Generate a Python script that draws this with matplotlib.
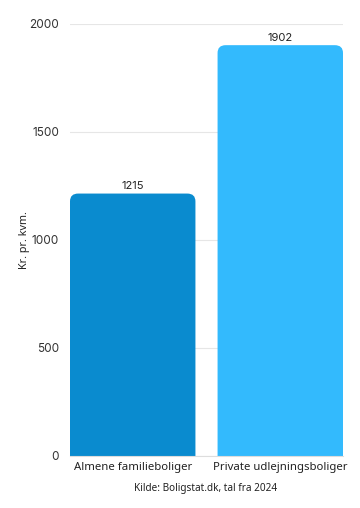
import matplotlib.pyplot as plt
from matplotlib.patches import FancyBboxPatch

categories = ["Almene familieboliger", "Private udlejningsboliger"]
values = [1215, 1902]
colors = ["#0A8BCF", "#33BAFD"]
yticks = [0, 500, 1000, 1500, 2000]

fig = plt.figure(figsize=(3.6, 5.08), dpi=100)
ax = fig.add_axes([70 / 360, 52 / 508, 273 / 360, 432 / 508])

width = 0.85
bars = ax.bar(range(len(categories)), values, width=width, color="none")

# rounded top corners: draw rounded boxes that start below zero so the lower corners are clipped
rx = 0.055
ry = 36
for bar, c in zip(bars, colors):
    x0 = bar.get_x()
    h = bar.get_height()
    patch = FancyBboxPatch((x0, -ry * 2), width, h + ry * 2,
                           boxstyle=f"round,pad=0,rounding_size={rx}",
                           mutation_aspect=ry / rx, fc=c, ec="none", zorder=3)
    ax.add_patch(patch)
    ax.text(bar.get_x() + width / 2, h + 12, f"{h:.0f}", ha="center", va="bottom",
            fontsize=8, family="Inter", color="#222222")

ax.set_xlim(-width / 2, len(categories) - 1 + width / 2)
ax.set_ylim(0, 2000)
ax.set_yticks(yticks)
ax.set_yticklabels([str(t) for t in yticks], family="Inter", fontsize=8.5, color="#333333")
ax.set_xticks(range(len(categories)))
ax.set_xticklabels(categories, family="Noto Sans", fontsize=8.2, color="#222222")
ax.tick_params(length=0, pad=8)
ax.tick_params(axis="x", pad=4)
ax.grid(axis="y", color="#e6e6e6", linewidth=0.8, zorder=0)
ax.set_axisbelow(True)
for s in ["top", "right", "left"]:
    ax.spines[s].set_visible(False)
ax.spines["bottom"].set_color("#dddddd")
ax.spines["bottom"].set_zorder(4)

ax.set_ylabel("Kr. pr. kvm.", family="Noto Sans", fontsize=7.8, color="#222222")
ax.yaxis.set_label_coords((30 - 70) / 273, 0.5)
fig.text(206 / 360, 1 - 489 / 508, "Kilde: Boligstat.dk, tal fra 2024", ha="center", va="center",
         family="Noto Sans", fontsize=7.2, color="#222222")

fig.savefig("out.png", dpi=100)
